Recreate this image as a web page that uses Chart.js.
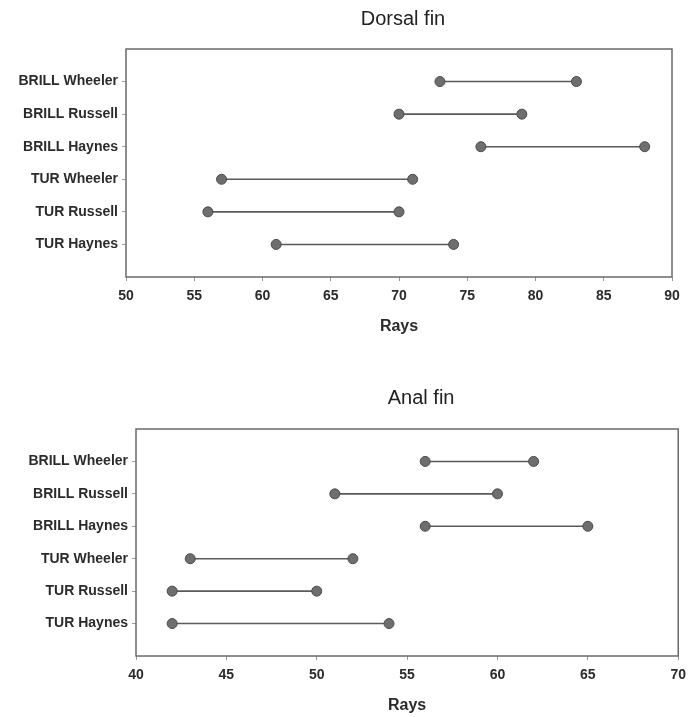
<!DOCTYPE html>
<html>
<head>
<meta charset="utf-8">
<script src="https://cdn.jsdelivr.net/npm/chart.js@4/dist/chart.umd.min.js"></script>
<style>
  html, body { margin: 0; padding: 0; background: #ffffff; }
  body { width: 693px; height: 717px; position: relative; overflow: hidden; }
  .panel { position: absolute; left: 0; }
</style>
</head>
<body>
<div class="panel" style="top:0px;width:693px;height:345px;"><canvas id="dorsal"></canvas></div>
<div class="panel" style="top:345px;width:693px;height:372px;"><canvas id="anal"></canvas></div>
<script>
// ---- Data ----
const categories = ['BRILL Wheeler', 'BRILL Russell', 'BRILL Haynes', 'TUR Wheeler', 'TUR Russell', 'TUR Haynes'];
const dorsalMin = [73, 70, 76, 57, 56, 61];
const dorsalMax = [83, 79, 88, 71, 70, 74];
const analMin   = [56, 51, 56, 43, 42, 42];
const analMax   = [62, 60, 65, 52, 50, 54];
const dorsalTicks = [50, 55, 60, 65, 70, 75, 80, 85, 90];
const analTicks   = [40, 45, 50, 55, 60, 65, 70];
const xTitle = 'Rays';
const dorsalTitle = 'Dorsal fin';
const analTitle = 'Anal fin';

const FONT = "'Liberation Sans', Arial, sans-serif";
const TEXT = '#2b2b2b';

const boxPlugin = {
  id: 'boxFrame',
  afterDraw(chart) {
    const a = chart.chartArea, ctx = chart.ctx;
    ctx.save();
    ctx.strokeStyle = '#6a6a6a';
    ctx.lineWidth = 1.5;
    ctx.strokeRect(a.left, a.top, a.right - a.left, a.bottom - a.top);
    ctx.restore();
  }
};

const panelTitlePlugin = {
  id: 'panelTitle',
  afterDraw(chart, args, opts) {
    const a = chart.chartArea, ctx = chart.ctx;
    ctx.save();
    ctx.font = '20px ' + FONT;
    ctx.fillStyle = '#222';
    ctx.textAlign = 'center';
    ctx.textBaseline = 'middle';
    ctx.fillText(opts.text, (a.left + a.right) / 2 + opts.dx, opts.y);
    ctx.restore();
  }
};

function makeChart(id, mins, maxs, ticks, title, cfg) {
  const datasets = categories.map((c, i) => ({
    label: c,
    data: [{ x: mins[i], y: i + 1 }, { x: maxs[i], y: i + 1 }],
    showLine: true,
    borderColor: '#5a5a5a',
    borderWidth: 1.6,
    pointRadius: 5,
    pointBackgroundColor: '#6e6e6e',
    pointBorderColor: '#4a4a4a',
    pointBorderWidth: 1
  }));
  return new Chart(document.getElementById(id), {
    type: 'scatter',
    data: { datasets },
    options: {
      responsive: true,
      maintainAspectRatio: false,
      animation: false,
      events: [],
      layout: { padding: { top: cfg.padTop, left: 0, right: cfg.padRight, bottom: 0 } },
      plugins: {
        legend: { display: false },
        tooltip: { enabled: false },
        title: { display: false },
        panelTitle: { text: title, dx: cfg.titleDx, y: cfg.titleY }
      },
      scales: {
        x: {
          type: 'linear',
          min: ticks[0],
          max: ticks[ticks.length - 1],
          afterBuildTicks(scale) { scale.ticks = ticks.map(v => ({ value: v })); },
          afterFit(scale) { scale.height = cfg.xHeight; },
          border: { display: false },
          grid: { drawOnChartArea: false, drawTicks: true, tickLength: 4, color: '#9a9a9a', lineWidth: 1 },
          ticks: { font: { family: FONT, size: 14, weight: 'bold' }, color: TEXT, padding: 7, maxRotation: 0, autoSkip: false },
          title: { display: true, text: xTitle, font: { family: FONT, size: 16, weight: 'bold' }, color: TEXT, padding: { top: 0, bottom: cfg.rayPad } }
        },
        y: {
          type: 'linear',
          min: 0,
          max: categories.length + 1,
          reverse: true,
          afterBuildTicks(scale) { scale.ticks = categories.map((c, i) => ({ value: i + 1 })); },
          afterFit(scale) { scale.width = cfg.yWidth; },
          border: { display: false },
          grid: { drawOnChartArea: false, drawTicks: true, tickLength: 4, color: '#a0a0a0', lineWidth: 1 },
          ticks: {
            font: { family: FONT, size: 14, weight: 'bold' }, color: TEXT, padding: 4, autoSkip: false,
            callback: (v) => categories[v - 1] || ''
          }
        }
      }
    },
    plugins: [boxPlugin, panelTitlePlugin]
  });
}

makeChart('dorsal', dorsalMin, dorsalMax, dorsalTicks, dorsalTitle,
  { padTop: 49, padRight: 21, yWidth: 126, xHeight: 68, rayPad: 9, titleDx: 4, titleY: 19 });
makeChart('anal', analMin, analMax, analTicks, analTitle,
  { padTop: 84, padRight: 11, yWidth: 136, xHeight: 61, rayPad: 2, titleDx: 14, titleY: 53 });
</script>
</body>
</html>
